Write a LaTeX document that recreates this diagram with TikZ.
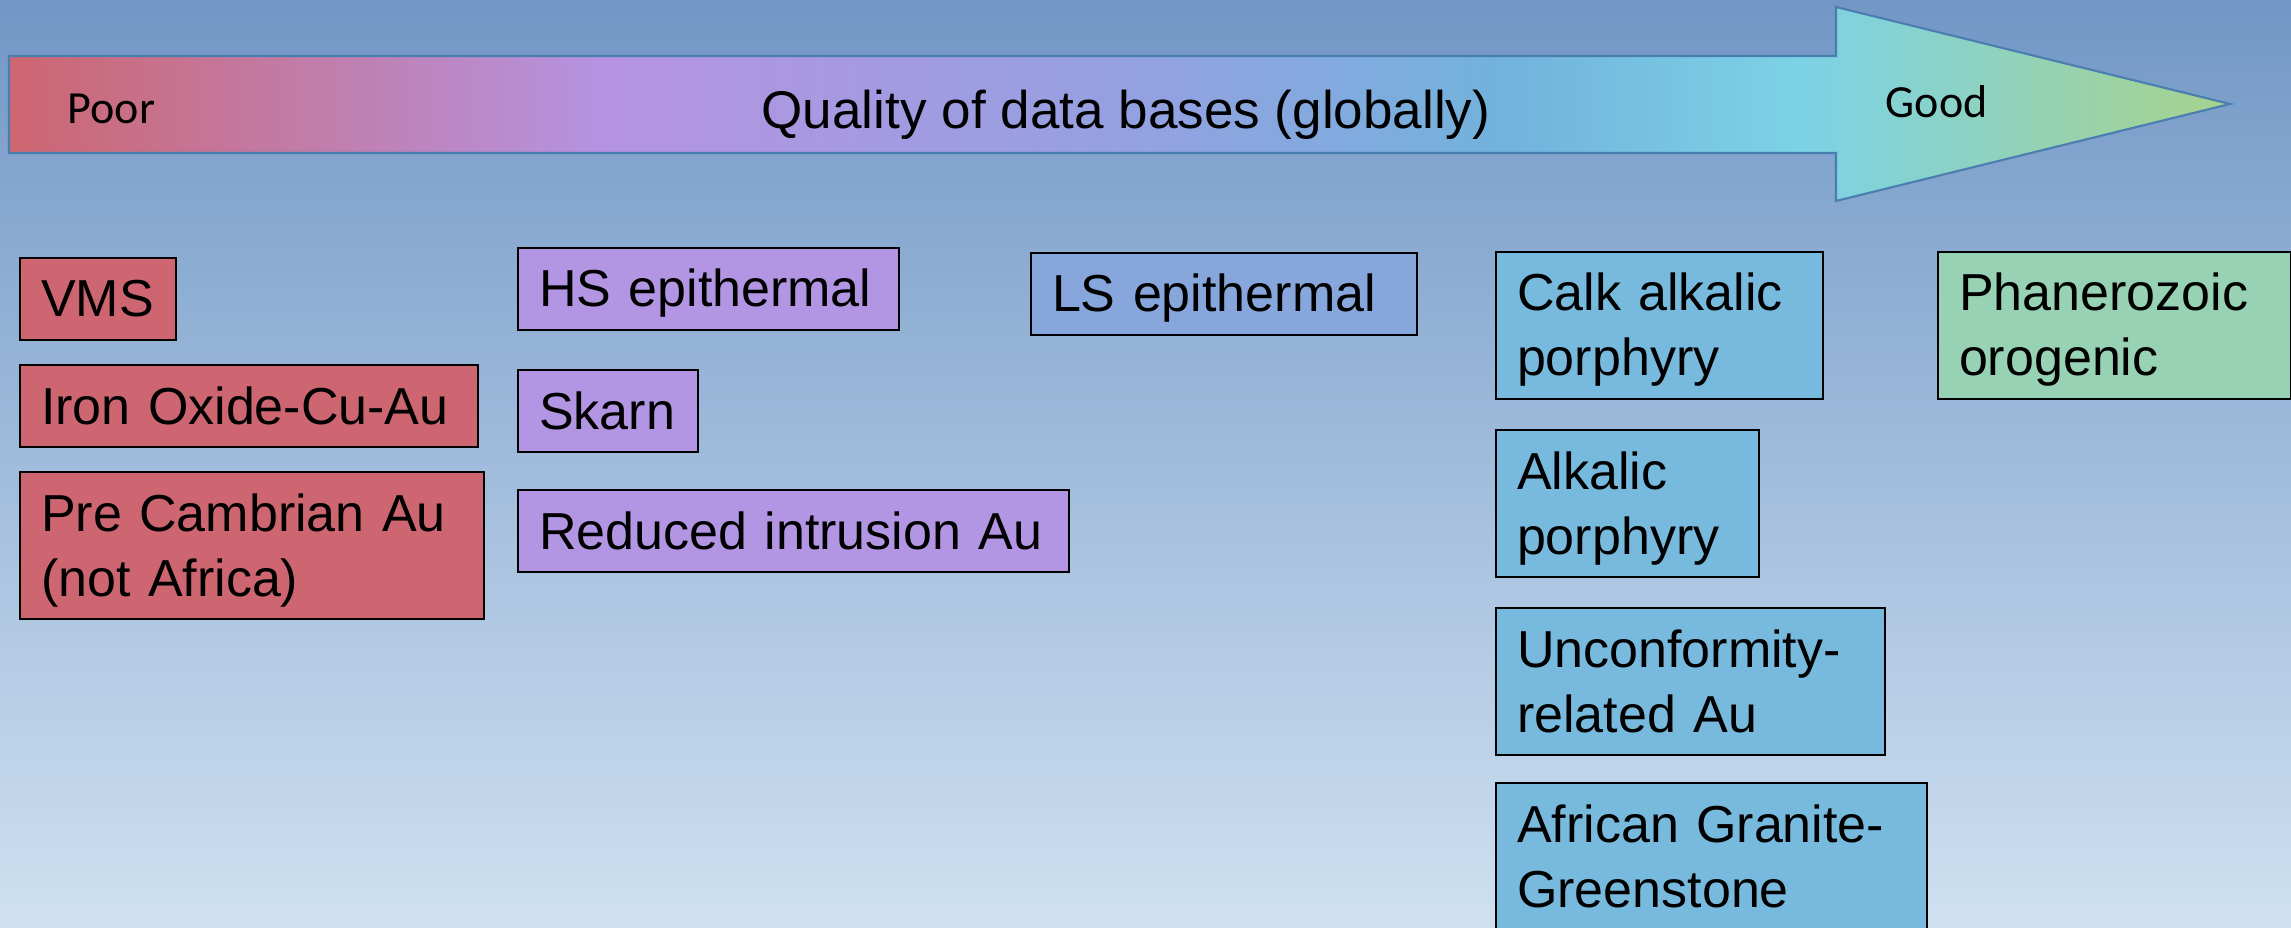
\documentclass[tikz,border=0pt]{standalone}
\usepackage{fontspec}
\setmainfont{Liberation Sans}
\newfontfamily\calibri{Carlito}
\usetikzlibrary{positioning}

\definecolor{bgtop}{RGB}{114,151,198}
\definecolor{bgbottom}{RGB}{207,225,241}
\definecolor{arrowline}{RGB}{74,126,176}
\definecolor{rampred}{RGB}{205,102,112}
\definecolor{ramppurple}{RGB}{181,147,226}
\definecolor{rampmid}{RGB}{146,162,224}
\definecolor{rampblue}{RGB}{114,178,220}
\definecolor{rampcyan}{RGB}{123,210,230}
\definecolor{rampgreen}{RGB}{168,210,140}
\definecolor{vmsred}{RGB}{205,102,112}
\definecolor{hspurple}{RGB}{178,149,227}
\definecolor{lsblue}{RGB}{134,166,220}
\definecolor{calkblue}{RGB}{120,186,222}
\definecolor{phangreen}{RGB}{152,210,180}

\pgfdeclarehorizontalshading{qualityramp}{100bp}{color(0bp)=(rampred); color(25bp)=(rampred);
  color(38.5bp)=(ramppurple); color(51bp)=(rampmid); color(58.6bp)=(rampblue);
  color(65.3bp)=(rampcyan); color(75bp)=(rampgreen); color(100bp)=(rampgreen)}

\begin{document}
\begin{tikzpicture}[
    box/.style={draw=black, line width=0.6pt, align=left, inner xsep=0.21cm, inner ysep=0pt,
      font=\fontsize{14.8}{18.5}\selectfont, text height=10.2pt, text depth=0pt,
      minimum height=0.82cm, anchor=north west},
    twoline/.style={text depth=18.5pt, minimum height=1.47cm},
    label/.style={inner sep=0pt}
]
\useasboundingbox (0,0) rectangle (22.91,-9.28);
\shade[top color=bgtop, bottom color=bgbottom] (0,0) rectangle (22.91,-9.28);

% quality arrow
\path[shading=qualityramp, draw=arrowline, line width=0.6pt]
  (0.09,-0.56) -- (18.36,-0.56) -- (18.36,-0.07) -- (22.30,-1.04)
  -- (18.36,-2.01) -- (18.36,-1.53) -- (0.09,-1.53) -- cycle;
\node[label, anchor=base west, font=\calibri\fontsize{13.1}{15}\selectfont] (poor) at (0.67,-1.24) {Poor};
\node[label, anchor=base, font=\fontsize{15.1}{18}\selectfont] (quality) at (11.26,-1.29) {Quality of data bases (globally)};
\node[label, anchor=base west, font=\calibri\fontsize{13.1}{15}\selectfont] (good) at (18.85,-1.18) {Good};

% first column
\node[box, fill=vmsred, text width=1.14cm] (vms) at (0.19,-2.57) {VMS};
\node[box, fill=vmsred, text width=4.16cm, below=0.23cm of vms.south west, anchor=north west] (iocg) {Iron Oxide-Cu-Au};
\node[box, twoline, fill=vmsred, text width=4.22cm, below=0.23cm of iocg.south west, anchor=north west] (precambrian) {Pre Cambrian Au\\(not Africa)};

% second column
\node[box, fill=hspurple, text width=3.39cm] (hs) at (5.17,-2.47) {HS epithermal};
\node[box, fill=hspurple, text width=1.38cm, below=0.38cm of hs.south west, anchor=north west] (skarn) {Skarn};
\node[box, fill=hspurple, text width=5.09cm, below=0.36cm of skarn.south west, anchor=north west] (reduced) {Reduced intrusion Au};

% third column
\node[box, fill=lsblue, text width=3.44cm] (ls) at (10.30,-2.52) {LS epithermal};

% fourth column
\node[box, twoline, fill=calkblue, text width=2.85cm] (calk) at (14.95,-2.51) {Calk alkalic\\porphyry};
\node[box, twoline, fill=calkblue, text width=2.21cm, below=0.29cm of calk.south west, anchor=north west] (alkalic) {Alkalic\\porphyry};
\node[box, twoline, fill=calkblue, text width=3.47cm, below=0.29cm of alkalic.south west, anchor=north west] (unconformity) {Unconformity-\\related Au};
\node[box, twoline, fill=calkblue, text width=3.89cm, below=0.26cm of unconformity.south west, anchor=north west] (greenstone) {African Granite-\\Greenstone};

% fifth column
\node[box, twoline, fill=phangreen, text width=3.11cm] (orogenic) at (19.37,-2.51) {Phanerozoic\\orogenic};
\end{tikzpicture}
\end{document}
